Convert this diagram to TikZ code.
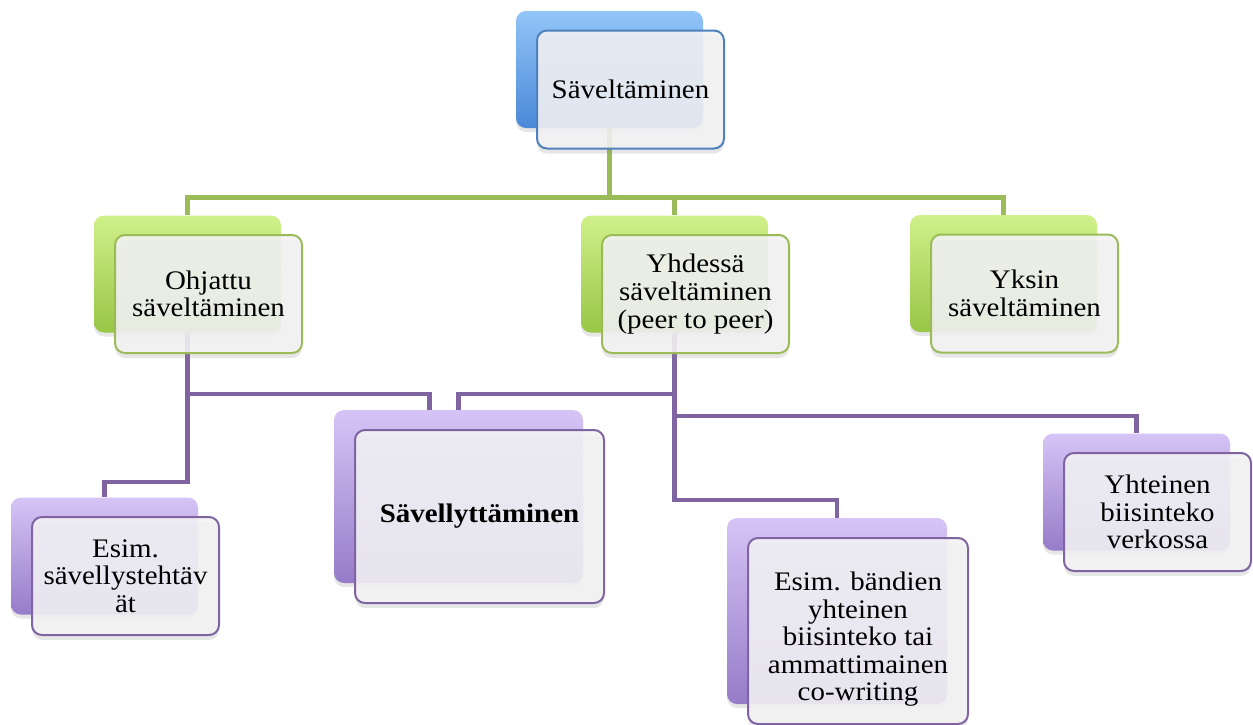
\documentclass[tikz,border=0pt]{standalone}
\usepackage{fontspec}
\setmainfont{Liberation Serif}[FakeStretch=1.08]
\usetikzlibrary{shadows,calc,backgrounds}

\definecolor{blueedge}{HTML}{4F81BD}
\definecolor{bluetop}{HTML}{92C5F7}
\definecolor{bluemid}{HTML}{76B0EF}
\definecolor{bluebot}{HTML}{4A88D8}
\definecolor{greenedge}{HTML}{9BBB59}
\definecolor{greentop}{HTML}{D0F08A}
\definecolor{greenmid}{HTML}{C2E970}
\definecolor{greenbot}{HTML}{98C646}
\definecolor{purpleedge}{HTML}{8064A2}
\definecolor{purpletop}{HTML}{D6C4F6}
\definecolor{purplemid}{HTML}{C6AFEF}
\definecolor{purplebot}{HTML}{967CC8}
\definecolor{frontfill}{HTML}{F3F3F5}

\tikzset{
  backbox/.style={rounded corners=5pt, inner sep=0pt,
    minimum width=93.5pt, minimum height=58.5pt,
    drop shadow={opacity=0.2, shadow xshift=0pt, shadow yshift=-2pt}},
  frontbox/.style={rounded corners=5pt, inner sep=2pt, line width=1pt,
    minimum width=93.5pt, minimum height=59pt,
    fill=frontfill, fill opacity=0.88, text opacity=1, align=center,
    font=\fontsize{13.4}{13.8}\selectfont,
    drop shadow={opacity=0.2, shadow xshift=0pt, shadow yshift=-2.5pt}},
  bluebox/.style={top color=bluetop, middle color=bluemid, bottom color=bluebot},
  greenbox/.style={top color=greentop, middle color=greenmid, bottom color=greenbot},
  purplebox/.style={top color=purpletop, middle color=purplemid, bottom color=purplebot},
  gline/.style={draw=greenedge, line width=2.2pt},
  pline/.style={draw=purpleedge, line width=2.2pt},
}

\begin{document}
\begin{tikzpicture}[x=0.5pt,y=-0.5pt]
  \useasboundingbox (0,0) rectangle (1253,724);

  % top level
  \node[backbox, bluebox] (root) at (609.5,69.5) {};
  \node[frontbox, draw=blueedge] (roottext) at ([shift={(21,20)}]root) {Säveltäminen};

  % second level
  \node[backbox, greenbox] (ohj) at (187.5,274) {};
  \node[frontbox, draw=greenedge] (ohjtext) at ([shift={(21,20)}]ohj) {Ohjattu\\säveltäminen};

  \node[backbox, greenbox] (yhd) at (674.5,274) {};
  \node[frontbox, draw=greenedge] (yhdtext) at ([shift={(21,20)}]yhd) {Yhdessä\\säveltäminen\\(peer to peer)};

  \node[backbox, greenbox] (yks) at (1003.5,273.5) {};
  \node[frontbox, draw=greenedge] (ykstext) at ([shift={(21,20)}]yks) {Yksin\\säveltäminen};

  % third level
  \node[backbox, purplebox] (esim) at (104.5,556) {};
  \node[frontbox, draw=purpleedge] (esimtext) at ([shift={(21,20)}]esim) {Esim.\\sävellystehtäv\\ät};

  \node[backbox, purplebox, minimum width=124.5pt, minimum height=86.5pt] (savy) at (458.5,496.5) {};
  \node[frontbox, draw=purpleedge, minimum width=124.5pt, minimum height=86.5pt] (savytext) at ([shift={(21,20)}]savy) {\textbf{Sävellyttäminen}};

  \node[backbox, purplebox, minimum width=110pt, minimum height=93pt] (esb) at (837,611) {};
  \node[frontbox, draw=purpleedge, minimum width=110pt, minimum height=93pt] (esbtext) at ([shift={(21,20)}]esb) {\rule{0pt}{17.5pt}Esim. bändien\\yhteinen\\biisinteko tai\\ammattimainen\\co-writing};

  \node[backbox, purplebox] (yht) at (1136.5,492) {};
  \node[frontbox, draw=purpleedge] (yhttext) at ([shift={(21,20)}]yht) {Yhteinen\\biisinteko\\verkossa};

  % connectors
  \begin{pgfonlayer}{background}
    \draw[gline] (root.south) -- ++(0,69) coordinate (gbus) -| (ohj.north);
    \draw[gline] (gbus) -| (yhd.north);
    \draw[gline] (gbus) -| (yks.north);

    \draw[pline] (ohj.south) -- ++(0,149) -| (esim.north);
    \draw[pline] (ohj.south) -- ++(0,61) -| ($(savy.north)+(-29,0)$);
    \draw[pline] (yhd.south) -- ++(0,61) -| (savy.north);
    \draw[pline] (yhd.south) -- ++(0,83) -| (yht.north);
    \draw[pline] (yhd.south) -- ++(0,167) -| (esb.north);
  \end{pgfonlayer}
\end{tikzpicture}
\end{document}
